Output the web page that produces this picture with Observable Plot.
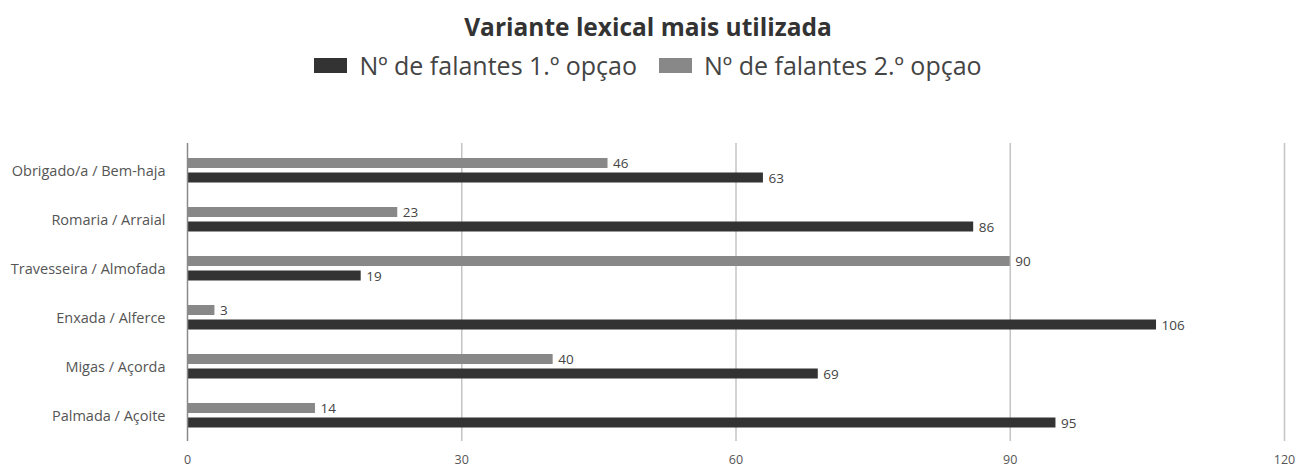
<!DOCTYPE html>
<html>
<head>
<meta charset="utf-8">
<script src="https://cdn.jsdelivr.net/npm/d3@7"></script>
<script src="https://cdn.jsdelivr.net/npm/@observablehq/plot@0.6"></script>
<style>
  html, body { margin: 0; padding: 0; background: #fff; }
  body { width: 1296px; height: 468px; position: relative; overflow: hidden; font-family: "Open Sans", "Noto Sans", sans-serif; }
  #title { position: absolute; top: 10px; left: 0; width: 1296px; text-align: center; font-weight: 700; font-size: 24.5px; line-height: 34px; color: #333; }
  #legend { position: absolute; top: 48px; left: 0; width: 1296px; display: flex; justify-content: center; align-items: center; font-size: 25px; line-height: 34px; color: #444; }
  .item { display: flex; align-items: center; margin: 0 11px; }
  .sw { width: 33px; height: 15px; margin-right: 12px; }
  #chart { position: absolute; top: 95px; left: 0; }
</style>
</head>
<body>
<div id="title"></div>
<div id="legend"></div>
<div id="chart"></div>
<script>
const categories = ["Obrigado/a / Bem-haja", "Romaria / Arraial", "Travesseira / Almofada", "Enxada / Alferce", "Migas / Açorda", "Palmada / Açoite"];
const first = [63, 86, 19, 106, 69, 95];
const second = [46, 23, 90, 3, 40, 14];
const seriesNames = ["Nº de falantes 1.º opçao", "Nº de falantes 2.º opçao"];
const seriesColors = ["#333333", "#888888"];
const xTicks = [0, 30, 60, 90, 120];
const titleText = "Variante lexical mais utilizada";

document.getElementById("title").textContent = titleText;
const legend = document.getElementById("legend");
seriesNames.forEach((n, i) => {
  const it = document.createElement("div");
  it.className = "item";
  const sw = document.createElement("div");
  sw.className = "sw";
  sw.style.background = seriesColors[i];
  const t = document.createElement("span");
  t.textContent = n;
  it.appendChild(sw); it.appendChild(t);
  legend.appendChild(it);
});

const d1 = categories.map((c, i) => ({cat: c, v: first[i]}));
const d2 = categories.map((c, i) => ({cat: c, v: second[i]}));

const chart = Plot.plot({
  width: 1296,
  height: 373,
  marginLeft: 187,
  marginRight: 12,
  marginTop: 50,
  marginBottom: 28,
  style: { fontFamily: "'Open Sans', 'Noto Sans', sans-serif", color: "#555", background: "#fff", overflow: "visible" },
  x: { domain: [0, 120], ticks: xTicks, label: null },
  y: { domain: categories, padding: 0, label: null },
  marks: [
    Plot.ruleX(xTicks.slice(1), { stroke: "#c4c4c4", strokeWidth: 1.5, insetTop: -2, insetBottom: -1 }),
    Plot.barX(d2, { x: "v", y: "cat", fill: seriesColors[1], insetTop: 12, insetBottom: 27 }),
    Plot.barX(d1, { x: "v", y: "cat", fill: seriesColors[0], insetTop: 26.5, insetBottom: 12.5 }),
    Plot.ruleX([0], { stroke: "#8a8a8a", strokeWidth: 1.5, insetTop: -2, insetBottom: -1 }),
    Plot.text(d2, { x: "v", y: "cat", text: d => String(d.v), dx: 5, dy: -7, textAnchor: "start", fontSize: 13.5, fill: "#444" }),
    Plot.text(d1, { x: "v", y: "cat", text: d => String(d.v), dx: 5, dy: 7.5, textAnchor: "start", fontSize: 13.5, fill: "#444" }),
    Plot.axisX({ ticks: xTicks, tickSize: 0, tickPadding: 15, fontSize: 12.5, fill: "#555", label: null }),
    Plot.axisY({ tickSize: 0, tickPadding: 22, fontSize: 14.5, fill: "#555", label: null })
  ]
});
document.getElementById("chart").appendChild(chart);
</script>
</body>
</html>
